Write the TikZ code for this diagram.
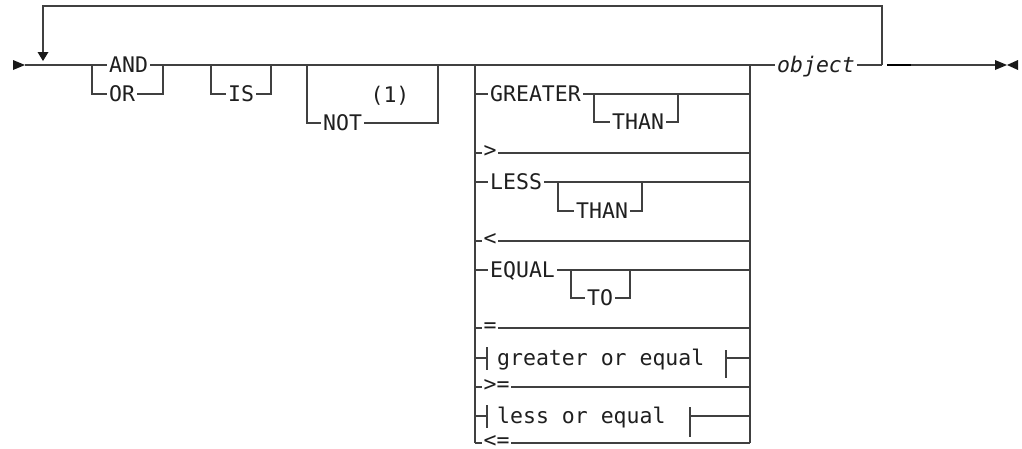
\documentclass[tikz,border=0pt]{standalone}
\usepackage{fontspec}
\setmonofont{DejaVu Sans Mono}
\begin{document}
\begin{tikzpicture}[x=1pt,y=-1pt,
  rail/.style={line width=1.5pt, draw=black!75, line cap=butt},
  kw/.style={font=\fontsize{21.5}{22}\selectfont\ttfamily, text=black!88, inner xsep=2pt, inner ysep=0pt,
             text height=15.5pt, text depth=0pt, fill=white, anchor=west},
  sym/.style={font=\fontsize{21.5}{22}\selectfont\ttfamily, text=black!88, inner xsep=1.5pt, inner ysep=0pt,
             text height=13pt, text depth=-3pt, fill=white, anchor=west, yshift=2.3pt},
  note/.style={font=\fontsize{21.5}{22}\selectfont\ttfamily, text=black!88, inner sep=0pt,
             text height=15.5pt, text depth=0pt},
  tip/.style={fill=black!90, draw=none}]
\useasboundingbox (0,0) rectangle (1022,448);

% ---- main line and repeat loop
\coordinate (start) at (25,65);
\coordinate (loopR) at (882,65);
\coordinate (loopRT) at (882,6);
\coordinate (loopLT) at (43,6);
\coordinate (loopLB) at (43,52);
\draw[rail] (start) -- (loopR);
\draw[rail] (loopR) -- (loopRT) -- (loopLT) -- (loopLB);
\fill[tip] (13,60) -- (25,65) -- (13,70) -- cycle;
\fill[tip] (37.5,52) -- (48.5,52) -- (43,61) -- cycle;

% ---- AND / OR
\coordinate (ao1) at (92,65); \coordinate (ao2) at (163,65);
\draw[rail] (ao1) -- (92,94) -- (163,94) -- (ao2);
\node[kw] (and) at (107,65) {AND};
\node[kw] (or) at (107,94) {OR};

% ---- IS
\coordinate (is1) at (211,65); \coordinate (is2) at (271,65);
\draw[rail] (is1) -- (211,94) -- (271,94) -- (is2);
\node[kw] (is) at (226,94) {IS};

% ---- NOT (1)
\coordinate (not1) at (307,65); \coordinate (not2) at (438,65);
\draw[rail] (not1) -- (307,123) -- (438,123) -- (not2);
\node[kw] (not) at (321,123) {NOT};
\node[note] (fn) at (390,95) {(1)};

% ---- operator choice
\coordinate (opL) at (475,65); \coordinate (opR) at (750,65);
\draw[rail] (opL) -- (475,443);
\draw[rail] (opR) -- (750,443);
\foreach \y in {94,153,182,241,270,328,387,443}
  \draw[rail] (475,\y) -- (750,\y);

% THAN / TO boxes
\draw[rail] (594,94) -- (594,122) -- (678,122) -- (678,94);
\draw[rail] (558,182) -- (558,211) -- (642,211) -- (642,182);
\draw[rail] (571,270) -- (571,298) -- (630,298) -- (630,270);

% fragment rows
\draw[rail] (475,358) -- (487,358);
\draw[rail] (487,347) -- (487,370);
\draw[rail] (726,350) -- (726,378);
\draw[rail] (726,358) -- (750,358);
\draw[rail] (475,416) -- (487,416);
\draw[rail] (487,405) -- (487,428);
\draw[rail] (690,407) -- (690,437);
\draw[rail] (690,416) -- (750,416);

\node[kw] (gt) at (488,94) {GREATER};
\node[kw] (than1) at (610,122) {THAN};
\node[sym] (gtsym) at (482,153) {>};
\node[kw] (lt) at (488,182) {LESS};
\node[kw] (than2) at (574,211) {THAN};
\node[sym] (ltsym) at (482,241) {<};
\node[kw] (eq) at (488,270) {EQUAL};
\node[kw] (to) at (585,298) {TO};
\node[sym] (eqsym) at (482,328) {=};
\node[kw,fill=none] (ge) at (495,358) {greater or equal};
\node[sym] (gesym) at (482,387) {>=};
\node[kw,fill=none] (le) at (495,416) {less or equal};
\node[sym] (lesym) at (482,443) {<=};

% ---- object and end
\node[kw] (obj) at (775,65) {\itshape object};
\coordinate (dash1) at (887,65); \coordinate (dash2) at (911,65);
\coordinate (endp) at (995,65);
\draw[line width=2.6pt, draw=black] (dash1) -- (dash2);
\draw[rail] (dash2) -- (endp);
\fill[tip] (995,60) -- (1007,65) -- (995,70) -- cycle;
\fill[tip] (1018,60) -- (1007,65) -- (1018,70) -- cycle;
\end{tikzpicture}
\end{document}
